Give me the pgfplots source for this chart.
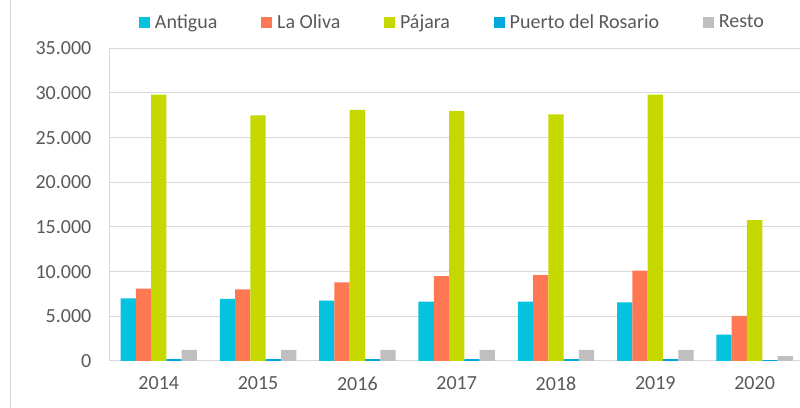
\documentclass[border=0pt]{standalone}
\usepackage{pgfplots}
\pgfplotsset{compat=1.18}
\usepackage{fontspec}
\setmainfont{Carlito}
\definecolor{cAnt}{RGB}{5,194,222}
\definecolor{cOli}{RGB}{255,120,84}
\definecolor{cPaj}{RGB}{197,216,0}
\definecolor{cPue}{RGB}{0,168,222}
\definecolor{cRes}{RGB}{191,191,191}
\definecolor{gridc}{RGB}{217,217,217}
\definecolor{txt}{RGB}{89,89,89}
\begin{document}
\begin{tikzpicture}
\begin{axis}[
  scale only axis,
  width=517.5pt, height=234.5pt,
  ybar=0pt, bar width=0.154,
  xmin=-0.491, xmax=6.457,
  ymin=0, ymax=35000,
  ytick={0,5000,10000,15000,20000,25000,30000,35000},
  xtick={0,1,2,3,4,5,6},
  xticklabels={2014,2015,2016,2017,2018,2019,2020},
  major tick length=0pt,
  axis x line*=bottom, axis y line*=left,
  axis line style={draw=gridc, line width=0.75pt, -},
  ymajorgrids, grid style={draw=gridc, line width=0.75pt},
  /pgf/number format/assume math mode=true,
  /pgf/number format/1000 sep={.},
  scaled y ticks=false,
  ticklabel style={font=\fontsize{15}{18}\selectfont, text=txt},
  yticklabel style={xshift=-10.5pt},
  xticklabel style={yshift=-8.5pt},
  legend columns=5,
  legend style={draw=none, fill=none, at={(0.497,1)}, anchor=center, yshift=19.5pt,
    font=\fontsize{15}{18}\selectfont, text=txt,
    /tikz/every odd column/.append style={column sep=1.5pt},
    /tikz/every even column/.append style={column sep=31pt}},
  legend image code/.code={\fill[#1] (0pt,-4.1pt) rectangle (8.25pt,4.1pt);},
  clip=false,
]
\addplot[fill=cAnt, draw=none] coordinates {(0,7000) (1,6950) (2,6750) (3,6650) (4,6650) (5,6550) (6,2950)};
\addplot[fill=cOli, draw=none] coordinates {(0,8100) (1,8000) (2,8800) (3,9500) (4,9600) (5,10100) (6,5050)};
\addplot[fill=cPaj, draw=none] coordinates {(0,29800) (1,27500) (2,28100) (3,28000) (4,27600) (5,29800) (6,15750)};
\addplot[fill=cPue, draw=none] coordinates {(0,200) (1,200) (2,200) (3,200) (4,200) (5,200) (6,100)};
\addplot[fill=cRes, draw=none] coordinates {(0,1250) (1,1250) (2,1250) (3,1250) (4,1250) (5,1250) (6,550)};
\legend{Antigua, La Oliva, Pájara, Puerto del Rosario, Resto}
\coordinate (sw) at (rel axis cs:0,0);
\coordinate (ne) at (rel axis cs:1,1);
\end{axis}
\pgfresetboundingbox
\path[use as bounding box] ([xshift=-82.5pt,yshift=-35.25pt]sw) rectangle ([yshift=36.2pt]ne);
\draw[gridc, line width=0.75pt] ([xshift=-74.25pt,yshift=-35.25pt]sw) -- ([xshift=-74.25pt,yshift=36.2pt]sw |- ne);
\end{tikzpicture}
\end{document}
